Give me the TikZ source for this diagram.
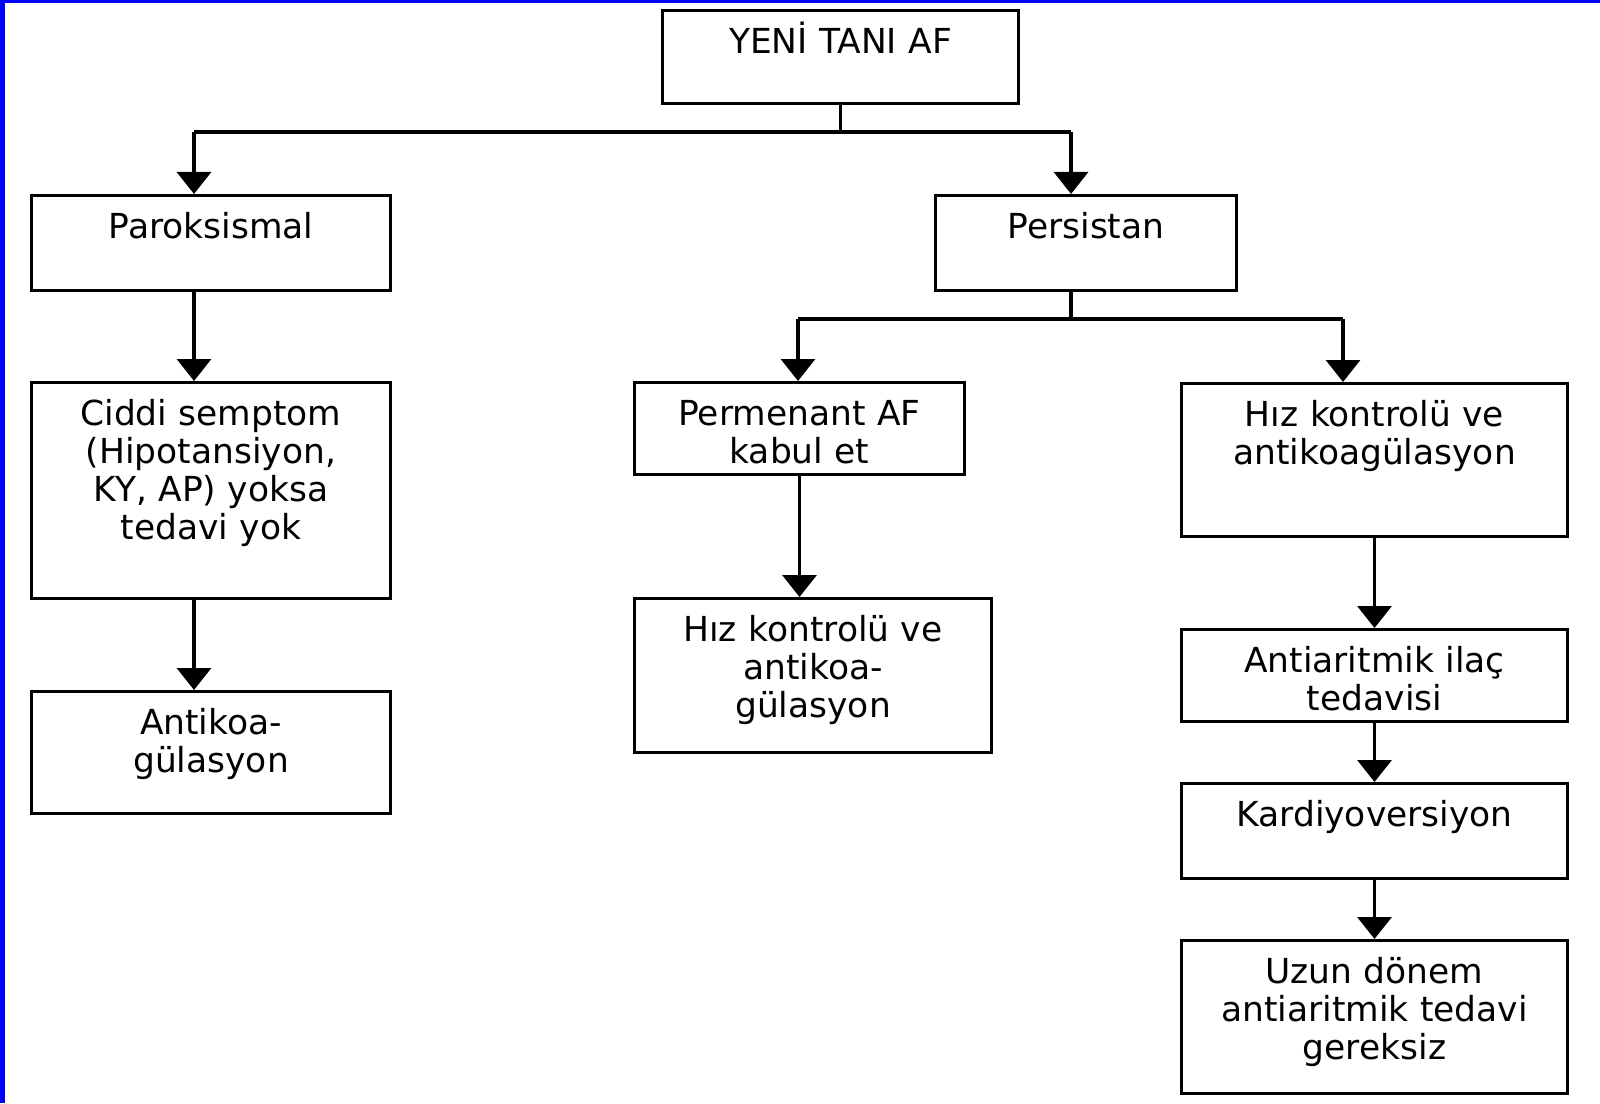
\documentclass[tikz,border=0pt]{standalone}
\usepackage{fontspec}
\setmainfont{DejaVu Sans}
\usepackage{tikz}
\usetikzlibrary{positioning, arrows.meta}

\begin{document}
\begin{tikzpicture}[
    box/.style={draw, line width=0.85pt, anchor=north west, align=center,
      inner xsep=0pt, inner ysep=0pt, text height=0.43cm,
      font=\fontsize{9.8pt}{10.8pt}\selectfont},
    cizgi/.style={draw, line width=0.95pt},
    arr/.style={cizgi, -{Triangle[width=0.34cm, length=0.22cm]}}
  ]
    \useasboundingbox (0,0) rectangle (16,-11.03);
    % Mavi kenar
    \fill[blue] (0,0) rectangle (0.05,-11.03);
    \fill[blue] (0,0) rectangle (16,-0.03);
    % Kutular
    \node[box, text width=3.56cm, text depth=0.50cm] (yeni) at (6.61,-0.09) {YENİ TANI AF};
    \node[box, text width=3.59cm, text depth=0.52cm] (parok) at (0.30,-1.94) {Paroksismal};
    \node[box, text width=3.01cm, text depth=0.52cm] (persis) at (9.34,-1.94) {Persistan};
    \node[box, text width=3.59cm, text depth=1.73cm] (ciddi) at (0.30,-3.81)
      {Ciddi semptom\\(Hipotansiyon,\\KY, AP) yoksa\\tedavi yok};
    \node[box, text width=3.59cm, text depth=0.79cm] (antikoa) at (0.30,-6.90)
      {Antikoa-\\gülasyon};
    \node[box, text width=3.30cm, text depth=0.49cm] (perm) at (6.33,-3.81)
      {Permenant AF\\kabul et};
    \node[box, text width=3.57cm, text depth=1.11cm] (hizorta) at (6.33,-5.97)
      {Hız kontrolü ve\\antikoa-\\gülasyon};
    \node[box, text width=3.86cm, text depth=1.10cm] (hizsag) at (11.80,-3.82)
      {Hız kontrolü ve\\antikoagülasyon};
    \node[box, text width=3.86cm, text depth=0.49cm] (ilac) at (11.80,-6.28)
      {Antiaritmik ilaç\\tedavisi};
    \node[box, text width=3.86cm, text depth=0.52cm] (kardi) at (11.80,-7.82)
      {Kardiyoversiyon};
    \node[box, text width=3.86cm, text depth=1.10cm] (uzun) at (11.80,-9.39)
      {Uzun dönem\\antiaritmik tedavi\\gereksiz};
    % Ayrım noktaları
    \coordinate (solkol) at (1.94,-1.32);
    \coordinate (sagkol) at (10.71,-1.32);
    \coordinate (ortakol) at (7.98,-3.19);
    \coordinate (persag) at (13.43,-3.19);
    % Oklar
    \draw[cizgi] (yeni.south) |- (solkol);
    \draw[cizgi] (yeni.south) |- (sagkol);
    \draw[arr] (solkol) -- (solkol |- parok.north);
    \draw[arr] (sagkol) -- (sagkol |- persis.north);
    \draw[arr] (solkol |- parok.south) -- (solkol |- ciddi.north);
    \draw[arr] (solkol |- ciddi.south) -- (solkol |- antikoa.north);
    \draw[cizgi] (sagkol |- persis.south) -- (sagkol |- ortakol);
    \draw[cizgi] (ortakol) -- (persag);
    \draw[arr] (ortakol) -- (ortakol |- perm.north);
    \draw[arr] (persag) -- (persag |- hizsag.north);
    \draw[arr] (perm.south) -- (perm.south |- hizorta.north);
    \draw[arr] (hizsag.south) -- (ilac.north);
    \draw[arr] (ilac.south) -- (kardi.north);
    \draw[arr] (kardi.south) -- (uzun.north);
\end{tikzpicture}
\end{document}
